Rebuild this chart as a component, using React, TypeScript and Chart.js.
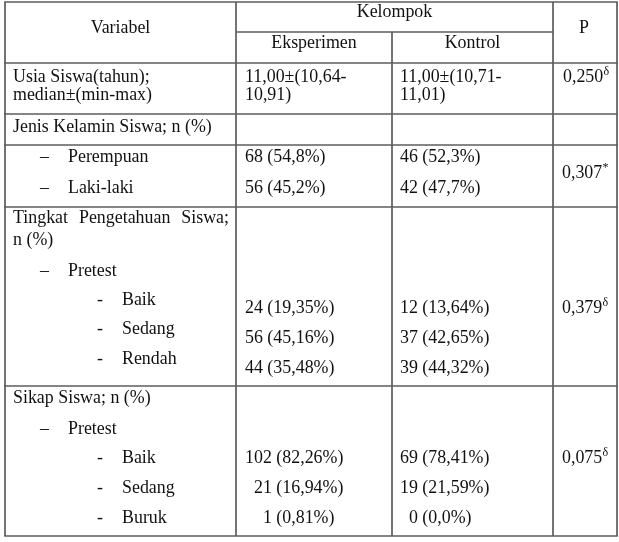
import React, { useEffect, useRef } from "react";
import { Chart, registerables } from "chart.js";

Chart.register(...registerables);

// ---------- table content ----------
const headerVariable = "Variabel";
const headerGroup = "Kelompok";
const groupNames = ["Eksperimen", "Kontrol"];
const headerP = "P";

const ageLabel = ["Usia Siswa(tahun);", "median±(min-max)"];
const ageEksperimen = ["11,00±(10,64-", "10,91)"];
const ageKontrol = ["11,00±(10,71-", "11,01)"];
const ageP = ["0,250", "δ"];

const genderTitle = "Jenis Kelamin Siswa; n (%)";
const genderCategories = ["Perempuan", "Laki-laki"];
const genderEksperimen = ["68 (54,8%)", "56 (45,2%)"];
const genderKontrol = ["46 (52,3%)", "42 (47,7%)"];
const genderP = ["0,307", "*"];

const knowledgeTitle = ["Tingkat Pengetahuan Siswa;", "n (%)"];
const knowledgePhase = "Pretest";
const knowledgeCategories = ["Baik", "Sedang", "Rendah"];
const knowledgeEksperimen = ["24 (19,35%)", "56 (45,16%)", "44 (35,48%)"];
const knowledgeKontrol = ["12 (13,64%)", "37 (42,65%)", "39 (44,32%)"];
const knowledgeP = ["0,379", "δ"];

const attitudeTitle = "Sikap Siswa; n (%)";
const attitudePhase = "Pretest";
const attitudeCategories = ["Baik", "Sedang", "Buruk"];
const attitudeEksperimen = ["102 (82,26%)", "  21 (16,94%)", "    1 (0,81%)"];
const attitudeKontrol = ["69 (78,41%)", "19 (21,59%)", "  0 (0,0%)"];
const attitudeP = ["0,075", "δ"];

// ---------- layout (in scale units) ----------
const COLS = [5, 236, 392, 553, 617];
const ROW_LINES = [2, 63, 114, 145, 207, 386, 536];
const SUB_HEADER_LINE = 32;
const X_LEFT = 13;
const X_DASH = 40;
const X_LABEL = 68;
const X_SUBDASH = 97;
const X_SUBLABEL = 122;
const X_EXP = 245;
const X_KON = 400;
const X_P = 562;

const FONT_FAMILY = '"Liberation Serif", "Times New Roman", serif';
const FONT_SIZE = 17.9;
const SUP_SIZE = 12;
const TEXT_COLOR = "#111111";
const LINE_COLOR = "#5c5c5c";

const tablePlugin = {
  id: "tablePlugin",
  beforeDraw(chart: any) {
    const { ctx, width, height } = chart;
    ctx.save();
    ctx.fillStyle = "#ffffff";
    ctx.fillRect(0, 0, width, height);
    ctx.restore();
  },
  afterDraw(chart: any) {
    const ctx: CanvasRenderingContext2D = chart.ctx;
    const xs = chart.scales.x;
    const ys = chart.scales.y;
    const X = (v: number) => xs.getPixelForValue(v);
    const Y = (v: number) => ys.getPixelForValue(v);

    ctx.save();
    // lines
    ctx.strokeStyle = LINE_COLOR;
    ctx.lineWidth = 1.7;
    const hline = (y: number, x0: number, x1: number) => {
      ctx.beginPath();
      ctx.moveTo(X(x0), Y(y));
      ctx.lineTo(X(x1), Y(y));
      ctx.stroke();
    };
    const vline = (x: number, y0: number, y1: number) => {
      ctx.beginPath();
      ctx.moveTo(X(x), Y(y0));
      ctx.lineTo(X(x), Y(y1));
      ctx.stroke();
    };
    const top = ROW_LINES[0];
    const bottom = ROW_LINES[ROW_LINES.length - 1];
    ROW_LINES.forEach((y) => hline(y, COLS[0] - 0.8, COLS[4] + 0.8));
    hline(SUB_HEADER_LINE, COLS[1], COLS[3]);
    vline(COLS[0], top, bottom);
    vline(COLS[1], top, bottom);
    vline(COLS[2], SUB_HEADER_LINE, bottom);
    vline(COLS[3], top, bottom);
    vline(COLS[4], top, bottom);

    // text
    ctx.fillStyle = TEXT_COLOR;
    ctx.textBaseline = "alphabetic";
    const font = (s: number) => `${s}px ${FONT_FAMILY}`;
    const text = (s: string, x: number, y: number, align: CanvasTextAlign = "left") => {
      ctx.font = font(FONT_SIZE);
      ctx.textAlign = align;
      ctx.fillText(s, X(x), Y(y));
    };
    const pValue = (p: string[], x: number, y: number) => {
      ctx.font = font(FONT_SIZE);
      ctx.textAlign = "left";
      ctx.fillText(p[0], X(x), Y(y));
      const w = ctx.measureText(p[0]).width;
      ctx.font = font(SUP_SIZE);
      ctx.fillText(p[1], X(x) + w + 0.3, Y(y) - 7);
    };
    const justified = (s: string, x0: number, x1: number, y: number) => {
      ctx.font = font(FONT_SIZE);
      ctx.textAlign = "left";
      const words = s.split(" ");
      const widths = words.map((w) => ctx.measureText(w).width);
      const total = widths.reduce((a, b) => a + b, 0);
      const gap = (X(x1) - X(x0) - total) / (words.length - 1);
      let cx = X(x0);
      words.forEach((w, i) => {
        ctx.fillText(w, cx, Y(y));
        cx += widths[i] + gap;
      });
    };

    const cCenter = (a: number, b: number) => (COLS[a] + COLS[b]) / 2;

    // header
    text(headerVariable, cCenter(0, 1), 33, "center");
    text(headerGroup, cCenter(1, 3), 17, "center");
    text(groupNames[0], cCenter(1, 2), 48, "center");
    text(groupNames[1], cCenter(2, 3), 48, "center");
    text(headerP, cCenter(3, 4) - 1, 33, "center");

    // age
    const ageY = [82, 100];
    ageLabel.forEach((s, i) => text(s, X_LEFT, ageY[i]));
    ageEksperimen.forEach((s, i) => text(s, X_EXP, ageY[i]));
    ageKontrol.forEach((s, i) => text(s, X_KON, ageY[i]));
    pValue(ageP, X_P + 1, ageY[0]);

    // gender
    text(genderTitle, X_LEFT, 132);
    const gY = [162, 193];
    genderCategories.forEach((s, i) => {
      text("–", X_DASH, gY[i]);
      text(s, X_LABEL, gY[i]);
      text(genderEksperimen[i], X_EXP, gY[i]);
      text(genderKontrol[i], X_KON, gY[i]);
    });
    pValue(genderP, X_P, 178);

    // knowledge
    justified(knowledgeTitle[0], X_LEFT, 229, 223);
    text(knowledgeTitle[1], X_LEFT, 245);
    text("–", X_DASH, 276);
    text(knowledgePhase, X_LABEL, 276);
    const kLabelY = [305, 334, 364];
    const kValY = [313, 343, 373];
    knowledgeCategories.forEach((s, i) => {
      text("-", X_SUBDASH, kLabelY[i]);
      text(s, X_SUBLABEL, kLabelY[i]);
      text(knowledgeEksperimen[i], X_EXP, kValY[i]);
      text(knowledgeKontrol[i], X_KON, kValY[i]);
    });
    pValue(knowledgeP, X_P, 313);

    // attitude
    text(attitudeTitle, X_LEFT, 403);
    text("–", X_DASH, 434);
    text(attitudePhase, X_LABEL, 434);
    const aY = [463, 493, 523];
    attitudeCategories.forEach((s, i) => {
      text("-", X_SUBDASH, aY[i]);
      text(s, X_SUBLABEL, aY[i]);
      text(attitudeEksperimen[i], X_EXP, aY[i]);
      text(attitudeKontrol[i], X_KON, aY[i]);
    });
    pValue(attitudeP, X_P, 463);

    ctx.restore();
  },
};

export default function App() {
  const canvasRef = useRef<HTMLCanvasElement | null>(null);

  useEffect(() => {
    if (!canvasRef.current) return;
    const chart = new Chart(canvasRef.current, {
      type: "scatter",
      data: { datasets: [{ data: [], showLine: false }] },
      options: {
        animation: false,
        responsive: false,
        devicePixelRatio: 1,
        layout: { padding: 0 },
        events: [],
        plugins: {
          legend: { display: false },
          tooltip: { enabled: false },
          title: { display: false },
        },
        scales: {
          x: { type: "linear", min: 0, max: 619, display: false },
          y: { type: "linear", min: 0, max: 542, reverse: true, display: false },
        },
      },
      plugins: [tablePlugin],
    } as any);
    return () => chart.destroy();
  }, []);

  return (
    <div style={{ position: "absolute", left: 0, top: 0, width: 619, height: 542, background: "#fff" }}>
      <canvas ref={canvasRef} width={619} height={542} style={{ display: "block" }} />
    </div>
  );
}
